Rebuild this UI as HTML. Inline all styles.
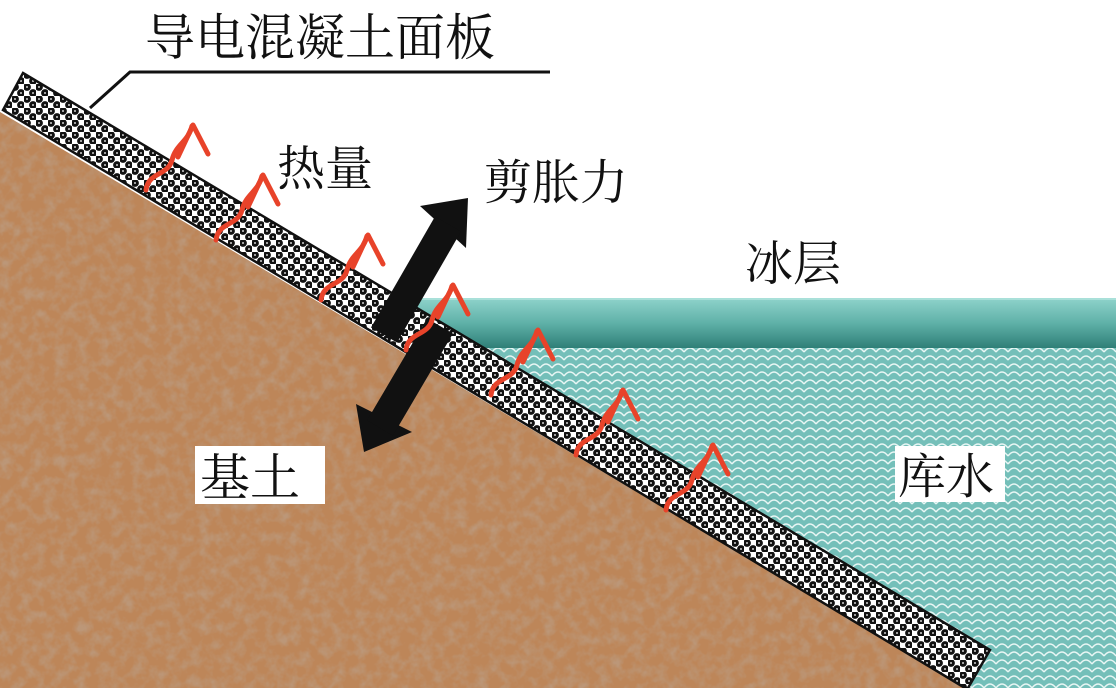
<!DOCTYPE html>
<html><head><meta charset="utf-8"><style>
html,body{margin:0;padding:0;background:#fff;}
svg{display:block}
text{font-family:"Liberation Serif","Noto Serif CJK SC",serif;fill:#111;}
</style></head><body>
<svg width="1116" height="688" viewBox="0 0 1116 688" xmlns="http://www.w3.org/2000/svg">
<defs>
<filter id="soil" x="0" y="0" width="100%" height="100%">
<feTurbulence type="fractalNoise" baseFrequency="0.09" numOctaves="3" seed="5" result="n"/>
<feColorMatrix in="n" type="matrix" values="0 0 0 0 0.50  0 0 0 0 0.31  0 0 0 0 0.19  0 0 0 -2.2 1.35" result="c"/>
<feComposite in="c" in2="SourceGraphic" operator="in"/>
</filter>
<pattern id="chk" width="12" height="12" patternUnits="userSpaceOnUse">
<rect width="12" height="12" fill="#fff"/>
<circle cx="3" cy="3" r="3.9" fill="#111"/>
<circle cx="9" cy="9" r="3.9" fill="#111"/>
<rect x="2" y="2.4" width="2" height="1.2" fill="#fff"/>
<rect x="8" y="8.4" width="2" height="1.2" fill="#fff"/>
</pattern>
<pattern id="wat" width="24" height="16" patternUnits="userSpaceOnUse">
<rect width="24" height="16" fill="#74bfb9"/>
<path d="M0,8 Q6,0 12,8 M12,8 Q18,0 24,8 M0,16 Q6,8 12,16 M12,16 Q18,8 24,16 M12,0 Q18,-8 24,0 M0,0 Q6,-8 12,0" fill="none" stroke="#e8f6f4" stroke-width="1.5"/>
</pattern>
<linearGradient id="ice" x1="0" y1="0" x2="0" y2="1">
<stop offset="0" stop-color="#8fd3cb"/>
<stop offset="0.5" stop-color="#5fb1a8"/>
<stop offset="1" stop-color="#2f7f77"/>
</linearGradient>
<g id="heat" fill="none" stroke="#e8432a" stroke-width="5" stroke-linecap="round" stroke-linejoin="round">
<path d="M0,0 C2,-18 22,-14 26,-30 C30,-46 42,-48 46,-64"/>
<path d="M32,-33 L47,-65 L62,-36"/>
</g>
</defs>

<polygon points="399,298 1116,298 1116,688 960,688" fill="url(#wat)"/>
<rect x="399" y="298" width="717" height="50" fill="url(#ice)"/>
<rect x="399" y="298" width="717" height="2" fill="#a9e0d9"/>

<polygon points="0,112 965,688 0,688" fill="#bd8659"/>
<polygon points="0,112 965,688 0,688" fill="#bd8659" filter="url(#soil)"/>

<polygon points="23,73 990,650 968,688 965,688 3,110" fill="url(#chk)"/>
<polygon points="23,73 990,650 968,688 965,688 3,110" fill="none" stroke="#111" stroke-width="2.5"/>

<polyline points="90,108 130,72 550,72" fill="none" stroke="#111" stroke-width="3"/>

<g fill="#111">
<polygon points="420,206 468,198 466,248" />
<polygon points="356,404 364,452 412,432"/>
</g>
<line x1="440" y1="326" x2="380" y2="428" stroke="#111" stroke-width="30"/>
<line x1="384" y1="335" x2="448" y2="224" stroke="#111" stroke-width="30"/>

<use href="#heat" x="146" y="190"/>
<use href="#heat" x="216" y="240"/>
<use href="#heat" x="321" y="300"/>
<use href="#heat" x="406" y="350"/>
<use href="#heat" x="491" y="395"/>
<use href="#heat" x="576" y="455"/>
<use href="#heat" x="666" y="510"/>

<text x="145" y="55" font-size="50">导电混凝土面板</text>
<text x="277" y="185" font-size="48">热量</text>
<text x="484" y="199" font-size="48">剪胀力</text>
<text x="745" y="280" font-size="48">冰层</text>
<rect x="195" y="446" width="130" height="58" fill="#fff"/>
<text x="200" y="495" font-size="50">基土</text>
<rect x="895" y="446" width="110" height="56" fill="#fff"/>
<text x="898" y="493" font-size="48">库水</text>
</svg>
</body></html>
